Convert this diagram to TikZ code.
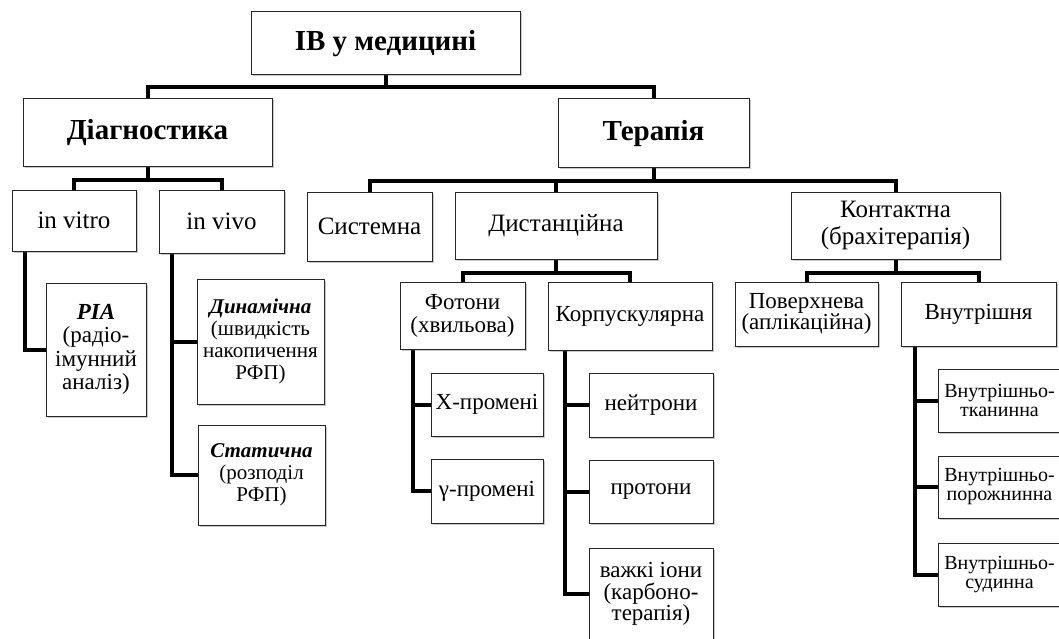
\documentclass[tikz,border=0pt]{standalone}
\usepackage{fontspec}
\setmainfont{Liberation Serif}
\usetikzlibrary{shadows,calc}
\pgfdeclarelayer{bg}
\pgfsetlayers{bg,main}
\begin{document}
\begin{tikzpicture}[x=1pt,y=-1pt,
  box/.style={draw=black!85, line width=1pt, fill=white, inner sep=1pt, align=center,
    drop shadow={shadow xshift=1.5pt, shadow yshift=-1.5pt, opacity=0.3, fill=black!70}},
  conn/.style={line width=4pt, black},
  fhead/.style={font=\fontsize{29}{32}\selectfont\bfseries},
  fsec/.style={font=\fontsize{25}{27}\selectfont},
  fthird/.style={font=\fontsize{23}{23}\selectfont},
  ftight/.style={font=\fontsize{23}{21}\selectfont},
  fsmall/.style={font=\fontsize{21}{22}\selectfont},
  fin/.style={font=\fontsize{20}{19}\selectfont},
]
\useasboundingbox (0,0) rectangle (1059,639);

% level 0-1
\node[box, fhead, minimum width=269, minimum height=63] (root) at (385.5,43.5) {ІВ у медицині};
\node[box, fhead, minimum width=249, minimum height=68] (diag) at (147.5,133) {Діагностика};
\node[box, fhead, minimum width=191, minimum height=69] (ther) at (653.5,133.5) {Терапія};

% level 2
\node[box, fsec, minimum width=124, minimum height=61] (invitro) at (74,220.5) {in vitro};
\node[box, fsec, minimum width=125, minimum height=63] (invivo) at (221.5,221.5) {in vivo};
\node[box, fsec, minimum width=125, minimum height=69] (system) at (369.5,226.5) {Системна};
\node[box, fsec, minimum width=202, minimum height=67] (dist) at (556,225.5) {Дистанційна};
\node[box, fsec, minimum width=209, minimum height=67] (contact) at (895.5,225.5) {Контактна\\(брахітерапія)};

% diagnostics leaves
\node[box, font=\fontsize{23}{23.5}\selectfont, minimum width=100, minimum height=133] (pia) at (96,349.5)
  {{\bfseries\itshape PIA}\\(радіо-\\імунний\\аналіз)};
\node[box, fsmall, minimum width=127, minimum height=125] (dyn) at (260.5,341.5)
  {{\bfseries\itshape Динамічна}\\(швидкість\\накопичення\\РФП)};
\node[box, fsmall, minimum width=127, minimum height=100] (stat) at (261.5,475)
  {{\bfseries\itshape Статична}\\(розподіл\\РФП)};

% level 3 therapy
\node[box, fthird, minimum width=125, minimum height=67] (photon) at (462.5,315.5) {Фотони\\(хвильова)};
\node[box, fthird, minimum width=164, minimum height=68] (corp) at (630,316) {Корпускулярна};
\node[box, ftight, minimum width=143, minimum height=64] (surf) at (806.5,314) {Поверхнева\\(аплікаційна)};
\node[box, fthird, minimum width=155, minimum height=64] (inner) at (978.5,314) {Внутрішня};

% level 4
\node[box, fthird, minimum width=112, minimum height=63] (xray) at (487,404.5) {X-промені};
\node[box, fthird, minimum width=112, minimum height=64] (gamma) at (487,491) {γ-промені};
\node[box, fthird, minimum width=124, minimum height=64] (neutr) at (651,405) {нейтрони};
\node[box, fthird, minimum width=124, minimum height=63] (proton) at (651,491.5) {протони};
\node[box, font=\fontsize{23}{21.5}\selectfont, minimum width=124, minimum height=92] (heavy) at (651,594) {важкі іони\\(карбоно-\\терапія)};
\node[box, fin, minimum width=123, minimum height=63] (it1) at (999.5,400.5) {Внутрішньо-\\тканинна};
\node[box, fin, minimum width=123, minimum height=62] (it2) at (999.5,487) {Внутрішньо-\\порожнинна};
\node[box, fin, minimum width=123, minimum height=63] (it3) at (999.5,574.5) {Внутрішньо-\\судинна};

\begin{pgfonlayer}{bg}
\draw[conn] (root.south) -- ++(0,12) coordinate (r1);
\draw[conn] (diag.north) |- (r1) -| (ther.north);

\draw[conn] (diag.south) -- ++(0,13) coordinate (d1);
\draw[conn] (invitro.north) |- (d1) -| (invivo.north);

\draw[conn] (ther.south) -- ++(0,13) coordinate (t1);
\draw[conn] (system.north) |- (t1) -| (contact.north);
\draw[conn] (t1 -| dist.north) -- (dist.north);

\draw[conn] (dist.south) -- ++(0,13) coordinate (s1);
\draw[conn] (photon.north) |- (s1) -| (corp.north);

\draw[conn] (contact.south) -- ++(0,13) coordinate (c1);
\draw[conn] (surf.north) |- (c1) -| (inner.north);

\draw[conn] ($(invitro.south west)+(13,0)$) |- (pia.west);
\draw[conn] ($(invivo.south west)+(13,0)$) |- (stat.west);
\draw[conn] ($(invivo.south west)+(13,0)$) |- (dyn.west);
\draw[conn] ($(photon.south west)+(13,0)$) |- (gamma.west);
\draw[conn] ($(photon.south west)+(13,0)$) |- (xray.west);
\draw[conn] ($(corp.south west)+(17,0)$) |- (heavy.west);
\draw[conn] ($(corp.south west)+(17,0)$) |- (proton.west);
\draw[conn] ($(corp.south west)+(17,0)$) |- (neutr.west);
\draw[conn] ($(inner.south west)+(14,0)$) |- (it3.west);
\draw[conn] ($(inner.south west)+(14,0)$) |- (it2.west);
\draw[conn] ($(inner.south west)+(14,0)$) |- (it1.west);
\end{pgfonlayer}
\end{tikzpicture}
\end{document}
